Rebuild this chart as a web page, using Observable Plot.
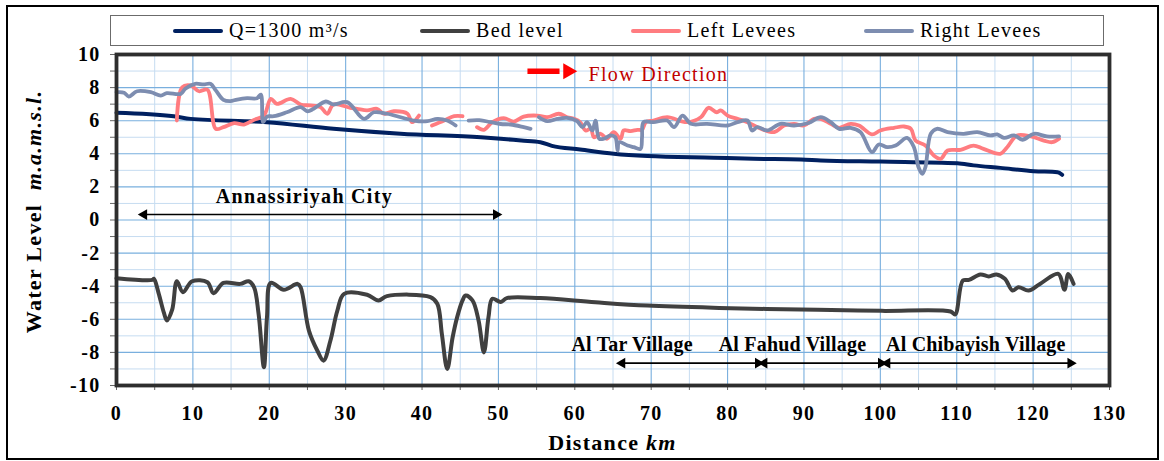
<!DOCTYPE html>
<html>
<head>
<meta charset="utf-8">
<script src="https://cdn.jsdelivr.net/npm/d3@7"></script>
<script src="https://cdn.jsdelivr.net/npm/@observablehq/plot@0.6"></script>
<style>
  body { margin: 0; background: #fff; }
  #wrap { position: relative; width: 1164px; height: 461px; font-family: "Liberation Serif", "Times New Roman", serif; letter-spacing: 1.3px; }
  #border { position: absolute; left: 6px; top: 5px; width: 1153px; height: 455px; border: 2px solid #000; box-sizing: border-box; pointer-events: none; }
  #legend { position: absolute; left: 110px; top: 15px; width: 994px; height: 31px; border: 1.5px solid #6b6b6b; box-sizing: border-box; background: #fff; }
  .item { position: absolute; top: 0; height: 100%; display: flex; align-items: center; font-size: 20px; color: #000; white-space: nowrap; }
  .sw { display: inline-block; width: 50px; height: 4px; border-radius: 2px; margin-right: 6px; }
  #chart { position: absolute; left: 0; top: 0; }
</style>
</head>
<body>
<div id="wrap">
  <div id="chart"></div>
  <div id="legend"></div>
  <div id="border"></div>
</div>
<script>
// ---------- data ----------
const seriesNames = ["Q=1300 m³/s", "Bed level", "Left Levees", "Right Levees"];
const seriesColors = ["#002060", "#404040", "#ff7c80", "#7d8db0"];

// Water surface profile, Q = 1300 m3/s
const waterX = [0, 7.5, 9.7, 19.7, 28.4, 37.2, 47.7, 50.3, 53.0, 55.5, 57.0, 60.7, 65.1, 69.5, 78.2, 83.4, 89.6, 92.2, 100, 110.1, 112.2, 115.7, 120.1, 123.2, 123.8];
const waterY = [6.48, 6.27, 6.11, 5.91, 5.51, 5.21, 5.0, 4.91, 4.80, 4.70, 4.48, 4.26, 4.0, 3.86, 3.76, 3.70, 3.66, 3.60, 3.53, 3.43, 3.30, 3.15, 2.95, 2.89, 2.73];

// Bed level
const bedX = [0, 4.7, 4.9, 5.5, 6.2, 6.6, 7.3, 7.9, 8.7, 9.9, 11.9, 12.7, 14.0, 16.2, 17.3, 18.0, 18.6, 19.3, 19.7, 20.2, 21.9, 23.7, 24.1, 25.2, 26.3, 27.1, 28.0, 28.9, 29.8, 32.8, 34.3, 35.4, 41.1, 42.0, 42.6, 43.3, 44.0, 44.6, 45.3, 45.7, 46.6, 47.4, 48.1, 48.7, 49.2, 50.3, 51.1, 55.5, 62.7, 69.5, 78.9, 91.8, 100.2, 109.2, 109.8, 110.8, 111.6, 113.1, 114.2, 115.2, 116.3, 117.3, 118.1, 119.4, 120.9, 123.3, 124.1, 124.6, 125.3];
const bedY = [-3.52, -3.62, -3.55, -4.4, -5.6, -6.07, -5.4, -3.70, -4.36, -3.70, -3.76, -4.42, -3.80, -3.86, -3.70, -4.06, -5.67, -8.9, -5.87, -3.80, -4.22, -3.86, -4.06, -6.7, -7.9, -8.5, -7.3, -5.5, -4.46, -4.52, -4.86, -4.60, -4.66, -5.06, -6.9, -9.0, -7.1, -5.87, -4.86, -4.56, -4.86, -6.07, -8.0, -5.87, -4.76, -4.96, -4.72, -4.72, -4.97, -5.17, -5.31, -5.43, -5.49, -5.53, -5.71, -3.66, -3.62, -3.29, -3.41, -3.29, -3.55, -4.26, -4.06, -4.26, -3.86, -3.26, -4.22, -3.26, -3.86];

// Left levees (null = gap in the survey)
const leftX = [7.9, 8.6, 9.7, 10.8, 11.9, 13.0, 14.0, 15.4, 16.7, 18.0, 19.3, 20.2, 21.0, 22.8, 24.1, 25.4, 26.7, 27.6, 28.4, 30.6, 31.5, 32.8, 34.1, 35.0, 36.3, 38.1, 38.7, 39.6, null,
  41.3, 42.9, 44.2, 45.3, null,
  47.2, 48.1, 49.2, 50.7, 52.0, 53.3, 55.1, 56.4, 57.9, 59.0, 59.9, 60.7, 61.4, 62.1, 62.5, 63.4, 64.2, 65.1, 66.0, 66.4, 67.3, 68.2, 68.8, 69.3, 70.3, 72.1, 74.7, 76.5, 77.5, 78.6, 79.1, 80.0, 81.3, 82.6, 83.9, 86.1, 87.4, 88.7, 90.0, 91.3, 92.2, 93.5, 94.6, 96.1, 97.2, 98.9, 100.0, 101.8, 103.1, 104.0, 104.6, 105.9, 107.0, 107.9, 108.8, 110.5, 112.2, 113.5, 115.7, 116.6, 117.9, 119.7, 121.4, 122.5, 123.4];
const leftY = [6.01, 8.02, 8.13, 7.78, 7.87, 5.51, 5.61, 5.85, 5.77, 6.05, 6.31, 7.32, 7.02, 7.32, 6.98, 6.92, 6.82, 6.42, 6.98, 6.78, 6.72, 6.62, 6.72, 6.42, 6.57, 6.42, 5.91, 6.31, null,
  5.71, 6.01, 6.27, 6.27, null,
  5.61, 5.45, 5.91, 6.15, 5.95, 6.25, 6.31, 6.21, 6.42, 6.21, 6.11, 5.91, 5.41, 5.51, 5.0, 5.21, 4.91, 5.31, 4.91, 5.41, 5.37, 5.45, 5.45, 5.91, 6.01, 6.21, 5.91, 6.21, 6.78, 6.51, 6.62, 6.31, 6.11, 5.91, 5.61, 5.31, 5.71, 5.81, 5.71, 6.11, 6.11, 5.81, 5.57, 5.81, 5.71, 5.17, 5.41, 5.57, 5.65, 5.51, 4.80, 4.50, 3.90, 3.70, 4.20, 4.24, 4.50, 4.30, 4.0, 4.40, 5.11, 5.05, 4.80, 4.70, 4.91];

// Right levees (null = gap in the survey)
const rightX = [0, 1.0, 1.6, 2.7, 4.5, 5.8, 6.6, 8.4, 9.0, 10.3, 11.4, 12.3, 13.0, 14.0, 14.9, 15.8, 17.1, 18.4, 18.9, 19.2, 19.7, 20.6, 22.3, 24.1, 25.0, 25.8, 27.4, 28.4, 30.2, 32.4, 33.7, 35.4, 37.2, 38.9, 40.7, 42.0, 43.3, 44.4, null,
  46.1, 47.5, 49.0, 50.3, 51.6, 53.3, 54.2, null,
  55.3, 56.4, 57.7, 59.0, 60.3, 61.0, 61.6, 62.3, 62.7, 63.2, 63.8, 64.7, 65.3, 65.6, 65.8, 66.9, 67.7, 68.6, 68.8, 69.0, 70.3, 72.1, 73.0, 74.1, 75.2, 77.3, 80.0, 81.3, 82.6, 83.2, 83.9, 85.2, 86.9, 88.7, 90.6, 92.2, 93.5, 94.6, 96.1, 97.4, 98.9, 99.8, 100.9, 102.0, 103.5, 104.4, 105.0, 105.5, 105.9, 106.6, 107.4, 108.8, 110.9, 112.7, 114.4, 115.3, 116.2, 117.5, 118.6, 120.1, 121.8, 123.4];
const rightY = [7.72, 7.69, 7.46, 7.78, 7.72, 7.52, 7.66, 7.62, 7.93, 8.23, 8.19, 8.23, 7.83, 7.26, 7.18, 7.28, 7.36, 7.36, 7.58, 5.91, 6.25, 6.27, 6.51, 6.82, 6.57, 6.72, 7.16, 6.98, 7.12, 6.11, 6.51, 6.42, 6.21, 6.01, 5.97, 6.11, 6.01, 5.71, null,
  6.01, 6.03, 5.91, 5.80, 5.77, 5.61, 5.51, null,
  6.21, 5.97, 6.11, 6.17, 5.97, 5.61, 5.91, 5.41, 6.01, 4.91, 4.91, 5.11, 5.0, 4.2, 4.70, 4.50, 4.40, 4.30, 5.0, 5.91, 5.91, 6.01, 5.61, 6.31, 5.81, 5.81, 5.71, 5.91, 6.01, 5.41, 5.61, 5.41, 5.81, 5.71, 5.86, 6.21, 5.91, 5.51, 5.57, 5.31, 4.10, 4.56, 4.40, 4.50, 4.96, 4.40, 3.19, 2.79, 3.19, 5.21, 5.51, 5.31, 5.21, 5.31, 5.11, 5.17, 4.96, 5.11, 4.85, 5.21, 5.05, 5.05];

// Axis ticks
const xTicks = d3.range(0, 131, 5);
const yTicks = d3.range(-10, 11, 1);
const xMajor = d3.range(10, 130, 10);
const xMinor = d3.range(5, 130, 10);
const yMajor = d3.range(-8, 10, 2);
const yMinor = d3.range(-9, 10, 2);

// Annotations (in data units: km, m)
const reachLabels = [
  {text: "Annassiriyah City", x: 24.6, y: 1.39},
  {text: "Al Tar Village", x: 67.5, y: -7.55},
  {text: "Al Fahud Village", x: 88.5, y: -7.55},
  {text: "Al Chibayish Village", x: 112.5, y: -7.55}
];
const reachArrows = [
  {x1: 3.6, x2: 49.7, y: 0.33},
  {x1: 66.2, x2: 84.0, y: -8.65},
  {x1: 84.8, x2: 100.1, y: -8.65},
  {x1: 100.9, x2: 124.9, y: -8.65}
];
const flowArrow = [{x1: 53.8, x2: 58.0, xHead: 59.1, y: 8.99}];
const flowLabel = [{text: "Flow Direction", x: 61.8, y: 8.79}];

// ---------- build ----------
const toPts = (xs, ys) => xs.map((x, i) => ({x, y: ys[i]}));
const water = toPts(waterX, waterY);
const bed = toPts(bedX, bedY);
const left = toPts(leftX, leftY);
const right = toPts(rightX, rightY);

const chart = Plot.plot({
  width: 1164,
  height: 461,
  marginLeft: 116,
  marginRight: 55,
  marginTop: 54,
  marginBottom: 76,
  x: {domain: [0, 130]},
  y: {domain: [-10, 10]},
  style: {fontFamily: "'Liberation Serif', 'Times New Roman', serif", background: "transparent", letterSpacing: "1.3px", color: "#000"},
  marks: [
    Plot.ruleX(xMinor, {stroke: "#c6dcf1", strokeWidth: 1}),
    Plot.ruleY(yMinor, {stroke: "#c6dcf1", strokeWidth: 1}),
    Plot.ruleX(xMajor, {stroke: "#79afde", strokeWidth: 1.1}),
    Plot.ruleY(yMajor, {stroke: "#79afde", strokeWidth: 1.1}),
    Plot.axisX({ticks: xTicks, tickFormat: d => d % 10 === 0 ? String(d) : "", tickSize: 5, tickPadding: 15, fontSize: 20, fontWeight: "bold", stroke: "#666", label: null}),
    Plot.axisY({ticks: yTicks, tickFormat: d => d % 2 === 0 ? String(d) : "", tickSize: 6, tickPadding: 10, fontSize: 20, fontWeight: "bold", stroke: "#666", label: null}),
    Plot.line(water, {x: "x", y: "y", stroke: seriesColors[0], strokeWidth: 4, curve: "monotone-x", strokeLinecap: "round", strokeLinejoin: "round"}),
    Plot.line(bed, {x: "x", y: "y", stroke: seriesColors[1], strokeWidth: 4, curve: "catmull-rom", strokeLinecap: "round", strokeLinejoin: "round"}),
    Plot.line(left, {x: "x", y: "y", stroke: seriesColors[2], strokeWidth: 3.8, curve: "catmull-rom", strokeLinecap: "round", strokeLinejoin: "round"}),
    Plot.line(right, {x: "x", y: "y", stroke: seriesColors[3], strokeWidth: 3.8, curve: "catmull-rom", strokeLinecap: "round", strokeLinejoin: "round"}),
    // reach arrows
    Plot.link(reachArrows, {x1: "x1", x2: "x2", y1: "y", y2: "y", stroke: "#000", strokeWidth: 1.6}),
    Plot.dot(reachArrows, {x: "x1", y: "y", symbol: "triangle", r: 4, fill: "#000", stroke: null, rotate: -90}),
    Plot.dot(reachArrows, {x: "x2", y: "y", symbol: "triangle", r: 4, fill: "#000", stroke: null, rotate: 90}),
    Plot.text(reachLabels, {x: "x", y: "y", text: "text", fontSize: 20, fontWeight: "bold", fill: "#000", lineAnchor: "middle"}),
    // flow direction
    Plot.link(flowArrow, {x1: "x1", x2: "x2", y1: "y", y2: "y", stroke: "#ff0000", strokeWidth: 5.5}),
    Plot.dot(flowArrow, {x: "xHead", y: "y", symbol: "triangle", r: 6, fill: "#ff0000", stroke: null, rotate: 90}),
    Plot.text(flowLabel, {x: "x", y: "y", text: "text", fontSize: 20, fill: "#c00000", textAnchor: "start", lineAnchor: "middle"}),
    Plot.frame({stroke: "#2e2e2e", strokeWidth: 3.8})
  ]
});

document.getElementById("chart").appendChild(chart);

// village labels are set tighter in the reference
d3.select(chart).selectAll("text").filter(function () { return /Village/.test(this.textContent); }).style("letter-spacing", "0.2px");

// axis titles with italic units
const sx = chart.scale("x"), sy = chart.scale("y");
const svg = d3.select(chart);
const xt = svg.append("text")
  .attr("x", (sx.range[0] + sx.range[1]) / 2)
  .attr("y", 450)
  .attr("text-anchor", "middle")
  .attr("font-size", 22).attr("font-weight", "bold").attr("fill", "#000");
xt.append("tspan").text("Distance ");
xt.append("tspan").attr("font-style", "italic").text("km");

const yt = svg.append("text")
  .attr("transform", `translate(41, ${(sy.range[0] + sy.range[1]) / 2 - 8}) rotate(-90)`)
  .attr("text-anchor", "middle")
  .attr("font-size", 22).attr("font-weight", "bold").attr("fill", "#000");
yt.append("tspan").text("Water Level  ");
yt.append("tspan").attr("font-style", "italic").text("m.a.m.s.l.");

// legend
const legendLeft = [62, 309, 520, 753];
const legend = d3.select("#legend");
seriesNames.forEach((name, i) => {
  const it = legend.append("div").attr("class", "item").style("left", legendLeft[i] + "px");
  it.append("span").attr("class", "sw").style("background", seriesColors[i]);
  it.append("span").text(name);
});
</script>
</body>
</html>
